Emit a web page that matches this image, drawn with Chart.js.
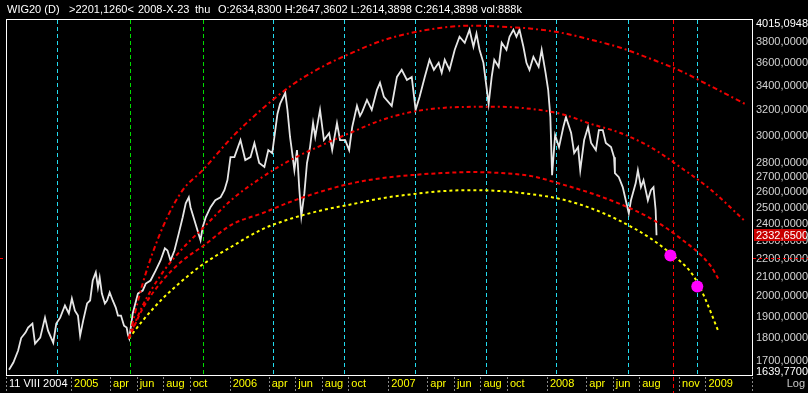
<!DOCTYPE html>
<html><head><meta charset="utf-8">
<script src="https://cdn.jsdelivr.net/npm/chart.js@4.4.1/dist/chart.umd.min.js"></script>
<style>html,body{margin:0;padding:0;background:#000;overflow:hidden}</style>
</head><body>
<canvas id="c" width="808" height="393"></canvas>
<script>
// ---------- data ----------
const priceDates = [
'2004-08-11','2004-08-21','2004-09-01','2004-09-08','2004-09-18','2004-09-24','2004-10-04','2004-10-10','2004-10-22','2004-11-02','2004-11-09','2004-11-21','2004-11-28','2004-12-07','2004-12-18','2004-12-27',
'2005-01-03','2005-01-10','2005-01-17','2005-01-22','2005-01-29','2005-02-07','2005-02-14','2005-02-20','2005-02-27','2005-03-04','2005-03-08','2005-03-13','2005-03-20','2005-03-25','2005-03-31','2005-04-07','2005-04-14','2005-04-19','2005-04-26','2005-05-03','2005-05-09','2005-05-12','2005-05-15','2005-05-23','2005-06-04','2005-06-15','2005-06-22','2005-07-03','2005-07-15','2005-07-26','2005-08-05','2005-08-11','2005-08-18','2005-08-27','2005-09-06','2005-09-15','2005-09-22','2005-09-29','2005-10-03','2005-10-12','2005-10-19','2005-10-26','2005-10-31','2005-11-07','2005-11-18','2005-11-29','2005-12-11','2005-12-20','2005-12-27',
'2006-01-03','2006-01-12','2006-01-26','2006-02-06','2006-02-18','2006-02-27','2006-03-10','2006-03-22','2006-03-31','2006-04-09','2006-04-14','2006-04-21','2006-04-27','2006-05-09','2006-05-14','2006-05-20','2006-05-25','2006-05-30','2006-06-05','2006-06-10','2006-06-15','2006-06-22','2006-06-28','2006-07-05','2006-07-12','2006-07-17','2006-07-28','2006-08-06','2006-08-18','2006-08-25','2006-09-05','2006-09-12','2006-09-24','2006-10-03','2006-10-10','2006-10-21','2006-10-28','2006-11-02','2006-11-13','2006-11-24','2006-12-06','2006-12-13','2006-12-22',
'2007-01-09','2007-01-21','2007-02-01','2007-02-13','2007-02-24','2007-03-05','2007-03-14','2007-03-26','2007-04-06','2007-04-16','2007-04-27','2007-05-04','2007-05-11','2007-05-22','2007-06-03','2007-06-14','2007-06-26','2007-07-07','2007-07-16','2007-07-23','2007-07-30','2007-08-08','2007-08-15','2007-08-20','2007-08-27','2007-09-02','2007-09-12','2007-09-19','2007-09-30','2007-10-07','2007-10-16','2007-10-23','2007-10-30','2007-11-08','2007-11-15','2007-11-22','2007-12-01','2007-12-13','2007-12-20','2007-12-29',
'2008-01-04','2008-01-09','2008-01-13','2008-01-20','2008-01-29','2008-02-08','2008-02-14','2008-02-26','2008-03-04','2008-03-13','2008-03-18','2008-03-27','2008-04-05','2008-04-12','2008-04-23','2008-04-30','2008-05-09','2008-05-16','2008-05-28','2008-06-04','2008-06-06','2008-06-15','2008-06-24','2008-07-01','2008-07-08','2008-07-13','2008-07-24','2008-07-29','2008-08-05','2008-08-11','2008-08-21','2008-08-28','2008-09-03','2008-09-08','2008-09-10'
];
const priceValues = [
1662,1692,1744,1800,1825,1848,1867,1775,1802,1895,1834,1779,1867,1895,1954,1915,
1989,1929,1905,1811,1881,1964,1979,2081,2124,2045,2097,2014,1964,1979,2019,1979,1944,1905,1905,1857,1848,1815,1798,1915,2014,2029,2065,2081,2135,2189,2257,2245,2189,2245,2344,2441,2529,2567,2504,2423,2362,2303,2380,2441,2504,2548,2567,2614,2681,
2841,2841,2966,2820,2841,2944,2799,2771,2892,2870,2989,3168,3249,3340,3200,2989,2870,2749,2892,2634,2448,2594,2799,2914,3096,2989,3200,2966,3018,2892,3096,2966,2966,2892,3065,3233,3152,3184,3282,3200,3366,3427,3307,
3233,3478,3541,3452,3478,3200,3307,3478,3632,3541,3604,3514,3632,3541,3725,3849,3791,3918,3753,3879,3725,3604,3392,3249,3478,3632,3568,3791,3725,3849,3918,3849,3918,3753,3604,3541,3659,3568,3725,3514,
3366,3144,2715,3004,2914,3065,3144,3019,2870,2914,2749,2966,3065,2944,2892,3042,3042,2944,2914,2841,2728,2701,2634,2548,2466,2548,2661,2749,2634,2681,2548,2614,2634,2485,2332.65
];

const arcDates = ['2005-05-14','2005-06-15','2005-07-31','2005-09-15','2005-10-31','2006-01-07','2006-03-17','2006-05-25','2006-08-02','2006-10-10','2006-12-17','2007-02-24','2007-05-04','2007-07-12','2007-09-19','2007-11-27','2008-02-03','2008-04-12','2008-06-19','2008-08-27','2008-11-04','2009-01-12','2009-04-02'];
const arcOuter = [1798,2066,2380,2614,2749,2989,3208,3409,3568,3697,3810,3888,3938,3958,3948,3928,3888,3820,3744,3641,3532,3400,3249];
const arcMiddle = [1798,1954,2124,2257,2374,2555,2701,2827,2929,3027,3120,3184,3216,3225,3225,3208,3168,3089,3019,2914,2770,2620,2417];
const arcInnerDates = ['2005-05-14','2005-06-15','2005-07-31','2005-09-15','2005-10-31','2006-01-07','2006-03-17','2006-05-25','2006-08-02','2006-10-10','2006-12-17','2007-02-24','2007-05-04','2007-07-12','2007-09-19','2007-11-27','2008-02-03','2008-04-12','2008-06-19','2008-08-27','2008-11-04','2009-01-12','2009-01-30'];
const arcInner = [1798,1939,2082,2189,2269,2398,2466,2542,2607,2660,2694,2715,2729,2736,2729,2708,2654,2594,2523,2435,2315,2162,2092];
const arcYellowDates = ['2005-05-14','2005-06-15','2005-07-31','2005-09-15','2005-10-31','2006-01-07','2006-03-17','2006-05-25','2006-08-02','2006-10-10','2006-12-17','2007-02-24','2007-05-04','2007-07-12','2007-09-19','2007-11-27','2008-02-03','2008-04-12','2008-06-19','2008-08-27','2008-10-12','2008-11-27','2008-12-13','2008-12-31','2009-01-30'];
const arcYellow = [1798,1881,1989,2082,2167,2269,2368,2435,2485,2523,2561,2587,2607,2614,2607,2587,2555,2497,2417,2315,2229,2129,2072,1989,1834];

const markerDates = ['2008-10-12','2008-12-13'];
const markerValues = [2217,2050];

const cyanLines = ['2004-11-30','2006-04-11','2006-09-21','2007-03-03','2007-08-13','2008-01-23','2008-07-06','2008-12-13'];
const greenLines = ['2005-05-16','2005-10-31'];
const crossDate = '2008-10-17';
const crossValue = 2201.126;

const xStart = '2004-08-04', xEnd = '2009-04-18';
const xTickDates = ['2004-08-04','2005-01-01','2005-04-01','2005-06-01','2005-08-01','2005-10-01','2006-01-01','2006-04-01','2006-06-01','2006-08-01','2006-10-01','2007-01-01','2007-04-01','2007-06-01','2007-08-01','2007-10-01','2008-01-01','2008-04-01','2008-06-01','2008-08-01','2008-11-01','2009-01-01'];
const xTickLabels = ['11 VIII 2004','2005','apr','jun','aug','oct','2006','apr','jun','aug','oct','2007','apr','jun','aug','oct','2008','apr','jun','aug','nov','2009'];

const yMin = 1639.77, yMax = 4015.0948;
const yTickValues = [1700,1800,1900,2000,2100,2200,2300,2400,2500,2600,2700,2800,3000,3200,3400,3600,3800];

const headerTexts = ['WIG20 (D)','>2201,1260<','2008-X-23','thu','O:2634,8300 H:2647,3602 L:2614,3898 C:2614,3898 vol:888k'];
const headerX = [7,69,138,195,218];

// ---------- helpers ----------
function toYear(s){const [y,m,d]=s.split('-').map(Number);const t=Date.UTC(y,m-1,d),a=Date.UTC(y,0,1),b=Date.UTC(y+1,0,1);return y+(t-a)/(b-a);}
const pts=(dates,vals)=>dates.map((d,i)=>({x:toYear(d),y:vals[i]}));
const fmt=v=>Number(v).toFixed(4).replace('.',',');
const FONT='11px "Liberation Sans", Arial, Helvetica, sans-serif';

Chart.defaults.font.family='"Liberation Sans", Arial, Helvetica, sans-serif';
Chart.defaults.font.size=11;
Chart.defaults.color='#d4d4d4';

const deco={
  id:'deco',
  beforeDraw(chart){const c=chart.ctx;c.save();c.fillStyle='#000';c.fillRect(0,0,chart.width,chart.height);c.restore();},
  beforeDatasetsDraw(chart){
    const {ctx,chartArea:a,scales:{x,y}}=chart;
    ctx.save();ctx.lineWidth=1;ctx.setLineDash([4,3]);
    const vline=(d,col,y1,y2)=>{const px=Math.round(x.getPixelForValue(toYear(d)))+0.5;ctx.strokeStyle=col;ctx.beginPath();ctx.moveTo(px,y1);ctx.lineTo(px,y2);ctx.stroke();};
    cyanLines.forEach(d=>vline(d,'#22dcf0',a.top,a.bottom));
    greenLines.forEach(d=>vline(d,'#00dc00',a.top,a.bottom));
    // x tick dashes in label band
    ctx.strokeStyle='#8a8a8a';ctx.setLineDash([2,2]);
    xTickDates.map(d=>Math.round(x.getPixelForValue(toYear(d)))).concat([a.right]).forEach(px=>{ctx.beginPath();ctx.moveTo(px+0.5,a.bottom+2);ctx.lineTo(px+0.5,chart.height);ctx.stroke();});
    // crosshair
    ctx.setLineDash([4,3]);
    vline(crossDate,'#ff0000',a.top,chart.height);
    const cy=Math.round(y.getPixelForValue(crossValue))+0.5;
    ctx.strokeStyle='#ff0000';ctx.setLineDash([3,3]);ctx.beginPath();ctx.moveTo(0,cy);ctx.lineTo(a.left,cy);ctx.moveTo(a.right+1,cy);ctx.lineTo(chart.width,cy);ctx.stroke();
    ctx.restore();
  },
  afterDraw(chart){
    const {ctx,chartArea:a,scales:{y}}=chart;
    ctx.save();
    ctx.strokeStyle='#ffffff';ctx.lineWidth=1;ctx.setLineDash([]);
    ctx.strokeRect(a.left+0.5,a.top-0.5,a.right-a.left,a.bottom-a.top+1);
    ctx.font=FONT;ctx.textBaseline='middle';ctx.textAlign='left';
    // last price box
    const last=priceValues[priceValues.length-1];
    const by=y.getPixelForValue(last);
    ctx.fillStyle='#c80000';ctx.fillRect(a.right+2,Math.round(by)-6,52,12);
    ctx.fillStyle='#ffffff';ctx.fillText(fmt(last),a.right+4,by+0.5);
    // axis extremes
    ctx.fillText(fmt(yMax),a.right+4,y.getPixelForValue(yMax)+4);
    ctx.fillText(fmt(yMin),a.right+4,y.getPixelForValue(yMin)-3);
    // Log
    ctx.fillStyle='#c8c8c8';ctx.textAlign='right';ctx.fillText('Log',chart.width-3,384);
    // header
    ctx.fillStyle='#ffffff';ctx.textAlign='left';
    headerTexts.forEach((t,i)=>ctx.fillText(t,headerX[i],10));
    ctx.restore();
  }
};

new Chart(document.getElementById('c'),{
  type:'line',
  data:{datasets:[
    {label:'markers',data:pts(markerDates,markerValues),showLine:false,pointRadius:6,pointBackgroundColor:'#ff00ff',pointBorderWidth:0,order:0},
    {label:'arc outer',data:pts(arcDates,arcOuter),borderColor:'#f00000',borderWidth:2,borderDash:[5,3,2,3],pointRadius:0,cubicInterpolationMode:'monotone',order:1},
    {label:'arc middle',data:pts(arcDates,arcMiddle),borderColor:'#f00000',borderWidth:2,borderDash:[4,3,2,3],pointRadius:0,cubicInterpolationMode:'monotone',order:1},
    {label:'arc inner',data:pts(arcInnerDates,arcInner),borderColor:'#f00000',borderWidth:2,borderDash:[4,3],pointRadius:0,cubicInterpolationMode:'monotone',order:1},
    {label:'arc yellow',data:pts(arcYellowDates,arcYellow),borderColor:'#ffff00',borderWidth:2,borderDash:[3,3],pointRadius:0,cubicInterpolationMode:'monotone',order:1},
    {label:'WIG20',data:pts(priceDates,priceValues),borderColor:'#e6e6e6',borderWidth:1.8,pointRadius:0,tension:0,order:5}
  ]},
  options:{
    responsive:false,animation:false,devicePixelRatio:1,
    layout:{padding:{left:3,top:20,right:0,bottom:0}},
    plugins:{legend:{display:false},tooltip:{enabled:false},title:{display:false}},
    scales:{
      x:{type:'linear',position:'bottom',min:toYear(xStart),max:toYear(xEnd),
        grid:{display:false,drawTicks:false},border:{display:false},
        afterBuildTicks:s=>{s.ticks=xTickDates.map(d=>({value:toYear(d)}));},
        afterFit:s=>{s.height=18;},
        ticks:{autoSkip:false,maxRotation:0,minRotation:0,align:'start',labelOffset:3,padding:2,
          color:c=>c.index===0?'#ffffff':'#ffff00',callback:(v,i)=>xTickLabels[i]}},
      y:{type:'logarithmic',position:'right',min:yMin,max:yMax,
        grid:{display:false,drawTicks:false},border:{display:false},
        afterBuildTicks:s=>{s.ticks=yTickValues.map(v=>({value:v}));},
        afterFit:s=>{s.width=56;},
        ticks:{autoSkip:false,padding:4,crossAlign:'near',color:'#d4d4d4',callback:v=>fmt(v)}}
    }
  },
  plugins:[deco]
});
</script>
</body></html>
